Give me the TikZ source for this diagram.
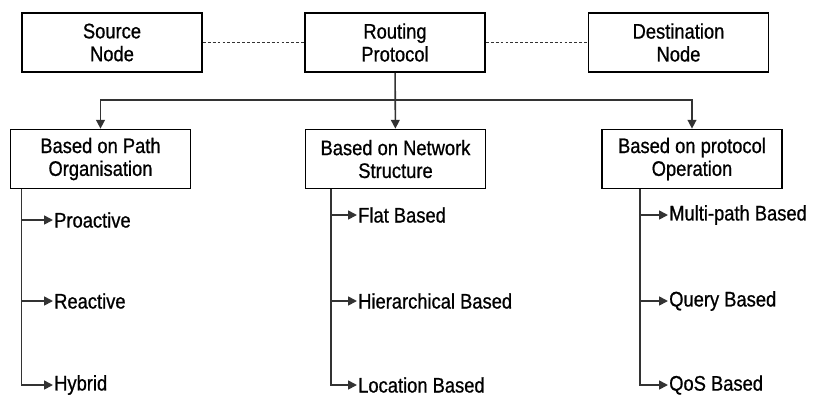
\documentclass[tikz,border=0pt]{standalone}
\usepackage{fontspec}
\setmainfont{Liberation Sans}[FakeStretch=0.87,FakeBold=0.8]
\usetikzlibrary{arrows.meta}
\tikzset{
  box/.style={draw=black, line width=1pt, minimum width=3.6cm, minimum height=1.18cm, align=center, font=\fontsize{12}{13}\selectfont},
  leaf/.style={anchor=west, inner sep=0.5pt, font=\fontsize{12}{13}\selectfont},
  link/.style={draw=black!80, line width=0.9pt},
  tip/.style={link, -{Triangle[width=5pt,length=5pt]}},
  dots/.style={link, dash pattern=on 1.6pt off 1.2pt}
}
\begin{document}
\begin{tikzpicture}[x=0.02cm, y=-0.02cm]
\useasboundingbox (0,0) rectangle (816,397);
\node[box] (src) at (112,42.5) {Source\\Node};
\node[box] (rout) at (395,42.5) {Routing\\Protocol};
\node[box] (dest) at (678.5,42.5) {Destination\\Node};
\node[box] (pathorg) at (100.5,159) {Based on Path\\Organisation};
\node[box] (netstr) at (395.5,159) {Based on Network\\Structure};
\node[box] (protop) at (692,159) {Based on protocol\\Operation};
\draw[dots] (src) -- (rout);
\draw[dots] (rout) -- (dest);
\coordinate (fork) at (0,100);
\draw[tip] (rout) -- (netstr);
\draw[tip] (rout.south |- fork) -| (pathorg.north);
\draw[tip] (rout.south |- fork) -| (protop.north);
\node[leaf] (pro) at (53,220) {Proactive};
\node[leaf] (rea) at (53,301) {Reactive};
\node[leaf] (hyb) at (53,385) {Hybrid};
\node[leaf] (flat) at (357,215) {Flat Based};
\node[leaf] (hier) at (357,301) {Hierarchical Based};
\node[leaf] (loc) at (357,385) {Location Based};
\node[leaf] (multi) at (668,215) {Multi-path Based};
\node[leaf] (query) at (668,301) {Query Based};
\node[leaf] (qos) at (668,385) {QoS Based};
\coordinate (ta) at ([xshift=0.24cm]pathorg.south west);
\coordinate (tb) at ([xshift=0.53cm]netstr.south west);
\coordinate (tc) at ([xshift=0.78cm]protop.south west);
\draw[tip] (ta) |- (hyb.west);
\draw[tip] (ta |- pro.west) -- (pro.west);
\draw[tip] (ta |- rea.west) -- (rea.west);
\draw[tip] (tb) |- (loc.west);
\draw[tip] (tb |- flat.west) -- (flat.west);
\draw[tip] (tb |- hier.west) -- (hier.west);
\draw[tip] (tc) |- (qos.west);
\draw[tip] (tc |- multi.west) -- (multi.west);
\draw[tip] (tc |- query.west) -- (query.west);
\end{tikzpicture}
\end{document}
